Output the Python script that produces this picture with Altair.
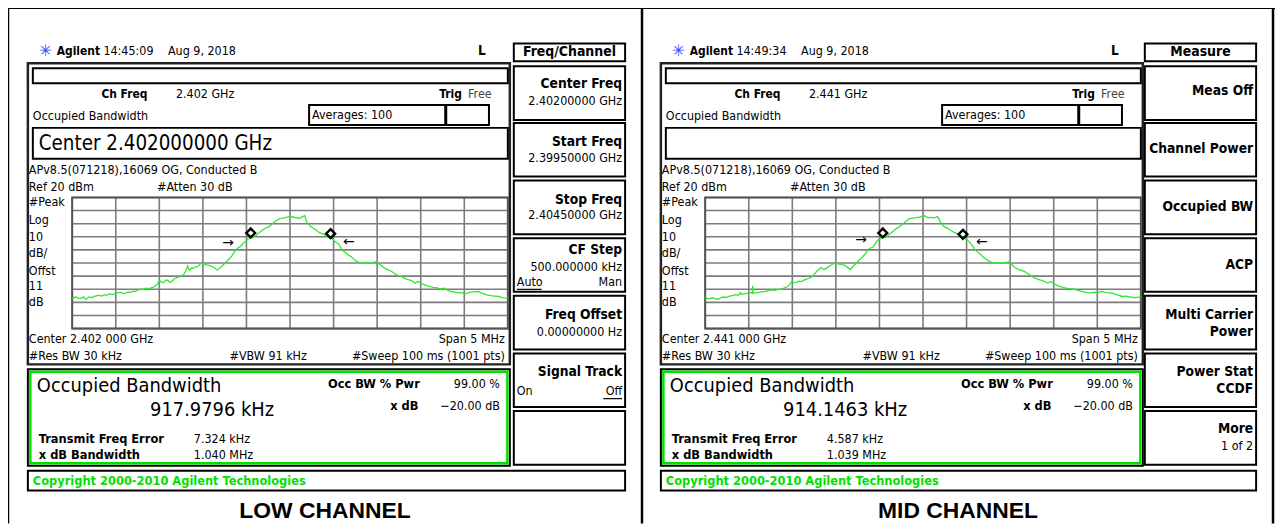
import altair as alt
import pandas as pd

# ---------------- values ----------------
LOW_FREQ_MHZ = [-2.500, -2.478, -2.455, -2.430, -2.398, -2.370, -2.341, -2.320, -2.303, -2.275,
                -2.246, -2.215, -2.189, -2.160, -2.133, -2.105, -2.076, -2.040, -2.008, -1.981,
                -1.943, -1.915, -1.886, -1.858, -1.830, -1.800, -1.773, -1.745, -1.716, -1.690,
                -1.659, -1.630, -1.602, -1.575, -1.545, -1.520, -1.500, -1.475, -1.451, -1.425,
                -1.402, -1.380, -1.356, -1.330, -1.311, -1.285, -1.261, -1.240, -1.223, -1.200,
                -1.174, -1.160, -1.148, -1.130, -1.110, -1.085, -1.061, -1.035, -1.015, -0.990,
                -0.958, -0.930, -0.902, -0.870, -0.837, -0.810, -0.788, -0.760, -0.731, -0.700,
                -0.674, -0.645, -0.617, -0.598, -0.576, -0.545, -0.519, -0.500, -0.481, -0.462,
                -0.440, -0.424, -0.405, -0.386, -0.360, -0.330, -0.300, -0.273, -0.254, -0.235,
                -0.215, -0.197, -0.178, -0.159, -0.140, -0.121, -0.090, -0.064, -0.035, -0.008,
                0.011, 0.030, 0.050, 0.068, 0.090, 0.106, 0.125, 0.144, 0.163, 0.170,
                0.180, 0.193, 0.215, 0.239, 0.265, 0.295, 0.320, 0.345, 0.370, 0.390,
                0.410, 0.428, 0.450, 0.466, 0.485, 0.504, 0.523, 0.542, 0.561, 0.580,
                0.598, 0.625, 0.655, 0.685, 0.712, 0.740, 0.769, 0.800, 0.826, 0.855,
                0.883, 0.910, 0.939, 0.968, 0.996, 1.025, 1.053, 1.080, 1.110, 1.135,
                1.167, 1.195, 1.223, 1.250, 1.280, 1.310, 1.337, 1.365, 1.394, 1.432,
                1.470, 1.502, 1.540, 1.570, 1.605, 1.640, 1.690, 1.730, 1.768, 1.800,
                1.837, 1.880, 1.930, 1.973, 2.020, 2.060, 2.110, 2.163, 2.200, 2.258,
                2.300, 2.350, 2.395, 2.440, 2.486, 2.500]
LOW_LEVEL_DBM = [-57.4, -56.2, -55.9, -57.0, -56.9, -55.8, -57.9, -56.5, -55.9, -56.3,
                 -55.4, -54.8, -54.6, -55.2, -54.1, -54.6, -53.6, -54.0, -53.4, -52.6,
                 -52.4, -53.2, -52.9, -52.0, -52.4, -51.4, -51.6, -50.6, -49.8, -50.4,
                 -49.1, -49.6, -49.1, -48.5, -47.3, -46.0, -43.3, -44.5, -44.8, -43.0,
                 -43.3, -44.6, -44.1, -42.2, -41.6, -40.8, -40.3, -39.5, -39.0, -36.5,
                 -32.3, -35.0, -35.3, -33.8, -34.0, -33.0, -32.8, -31.2, -29.7, -30.6,
                 -31.5, -31.8, -32.3, -33.6, -35.3, -34.0, -32.8, -31.0, -29.0, -27.0,
                 -25.2, -22.0, -19.7, -18.6, -17.7, -15.5, -13.9, -12.9, -11.6, -11.4,
                 -10.6, -10.2, -9.6, -8.9, -7.2, -5.6, -4.2, -3.1, -2.6, -2.1,
                 -0.8, 0.4, 1.2, 2.4, 3.0, 3.7, 4.2, 4.4, 5.0, 5.4,
                 5.1, 5.4, 4.8, 4.4, 4.6, 3.9, 4.6, 5.4, 6.0, 6.2,
                 3.5, 1.2, -0.5, -2.1, -3.5, -4.6, -6.0, -7.1, -7.6, -8.1,
                 -9.0, -10.2, -10.6, -11.0, -11.4, -12.8, -13.9, -14.8, -15.7, -18.0,
                 -20.2, -21.5, -23.2, -24.4, -25.7, -27.6, -29.0, -29.8, -30.3, -29.6,
                 -29.5, -30.0, -29.7, -29.4, -29.0, -31.0, -32.3, -33.6, -34.8, -35.3,
                 -36.5, -37.8, -39.0, -39.6, -40.3, -41.5, -42.3, -42.8, -43.3, -45.3,
                 -44.1, -45.4, -46.5, -47.2, -47.9, -48.6, -49.0, -49.8, -49.2, -50.5,
                 -51.7, -52.0, -52.8, -52.5, -53.3, -52.4, -52.0, -51.7, -53.0, -54.2,
                 -54.8, -55.2, -55.5, -56.6, -56.8, -56.2]

MID_FREQ_MHZ = [-2.500, -2.478, -2.455, -2.425, -2.398, -2.370, -2.341, -2.320, -2.284, -2.255,
                -2.227, -2.190, -2.152, -2.120, -2.095, -2.085, -2.038, -2.010, -1.981, -1.960,
                -1.955, -1.950, -1.943, -1.915, -1.886, -1.850, -1.811, -1.770, -1.735, -1.705,
                -1.678, -1.650, -1.621, -1.590, -1.564, -1.530, -1.508, -1.480, -1.451, -1.420,
                -1.394, -1.365, -1.337, -1.310, -1.280, -1.250, -1.223, -1.195, -1.167, -1.148,
                -1.129, -1.100, -1.072, -1.040, -1.015, -0.985, -0.958, -0.930, -0.902, -0.865,
                -0.833, -0.810, -0.788, -0.760, -0.731, -0.700, -0.674, -0.645, -0.617, -0.598,
                -0.576, -0.545, -0.519, -0.500, -0.481, -0.462, -0.440, -0.424, -0.400, -0.367,
                -0.340, -0.311, -0.280, -0.254, -0.230, -0.208, -0.185, -0.159, -0.130, -0.102,
                -0.075, -0.045, -0.020, 0.011, 0.040, 0.068, 0.095, 0.125, 0.150, 0.163,
                0.180, 0.193, 0.215, 0.239, 0.265, 0.295, 0.320, 0.352, 0.380, 0.409,
                0.440, 0.466, 0.485, 0.504, 0.523, 0.542, 0.570, 0.598, 0.625, 0.655,
                0.685, 0.712, 0.740, 0.769, 0.800, 0.826, 0.855, 0.883, 0.910, 0.939,
                0.968, 0.996, 1.025, 1.053, 1.080, 1.110, 1.140, 1.167, 1.195, 1.223,
                1.250, 1.280, 1.310, 1.337, 1.365, 1.394, 1.432, 1.470, 1.495, 1.540,
                1.580, 1.636, 1.680, 1.728, 1.770, 1.821, 1.870, 1.912, 1.960, 2.000,
                2.049, 2.100, 2.170, 2.230, 2.286, 2.330, 2.380, 2.430, 2.471, 2.500]
MID_LEVEL_DBM = [-55.9, -57.0, -57.4, -56.5, -56.7, -57.6, -57.4, -56.4, -55.9, -56.2,
                 -55.4, -54.9, -54.1, -54.6, -52.4, -53.9, -53.4, -53.0, -52.4, -53.0,
                 -47.3, -53.0, -52.9, -52.7, -52.4, -52.0, -51.6, -51.0, -50.4, -50.8,
                 -50.4, -50.0, -49.8, -49.0, -48.3, -46.5, -44.1, -45.0, -44.8, -43.8,
                 -44.1, -43.0, -42.3, -41.6, -40.8, -38.8, -36.5, -35.0, -33.3, -34.8,
                 -34.8, -33.5, -32.3, -31.0, -29.7, -30.4, -30.8, -31.2, -31.5, -33.5,
                 -34.8, -33.2, -31.5, -29.8, -27.7, -25.8, -23.9, -21.3, -18.9, -18.5,
                 -18.2, -14.8, -12.7, -11.8, -10.7, -10.5, -10.4, -10.2, -8.8, -7.1,
                 -5.6, -3.9, -2.8, -1.4, -0.2, 1.2, 2.2, 3.7, 4.1, 4.4,
                 4.6, 4.9, 5.4, 6.2, 5.2, 4.4, 4.8, 4.4, 5.0, 5.4,
                 4.0, 1.9, 0.0, -2.1, -3.0, -3.9, -5.2, -6.4, -7.2, -8.1,
                 -9.5, -10.7, -11.5, -12.2, -13.5, -14.7, -17.2, -19.7, -21.5, -23.2,
                 -25.0, -26.5, -27.8, -29.0, -29.6, -30.3, -29.9, -29.7, -30.2, -29.7,
                 -29.4, -29.0, -31.5, -33.3, -34.3, -35.3, -35.8, -36.5, -37.8, -39.0,
                 -40.3, -41.6, -42.0, -42.8, -43.3, -44.1, -45.3, -44.1, -45.4, -47.0,
                 -48.0, -49.2, -49.5, -50.0, -50.6, -51.7, -52.4, -53.0, -52.3, -52.6,
                 -51.7, -52.5, -53.0, -54.2, -55.5, -55.2, -55.9, -56.4, -56.0, -55.6]

LOW_MARKER_FREQ = [-0.451, 0.466]
LOW_MARKER_LEVEL = [-7.1, -7.6]
MID_MARKER_FREQ = [-0.462, 0.458]
MID_MARKER_LEVEL = [-7.1, -8.1]
LOW_ARROW_FREQ = [-0.712, 0.674]
LOW_ARROW_LEVEL = [-14.7, -14.2]
MID_ARROW_FREQ = [-0.712, 0.674]
MID_ARROW_LEVEL = [-12.7, -13.9]
ARROW_GLYPHS = ["→", "←"]

FREQ_GRID_MHZ = [-2.5, -2.0, -1.5, -1.0, -0.5, 0.0, 0.5, 1.0, 1.5, 2.0, 2.5]
LEVEL_GRID_DBM = [20, 10, 0, -10, -20, -30, -40, -50, -60, -70, -80]

PANEL_TITLES = ["LOW CHANNEL", "MID CHANNEL"]
TIMESTAMPS = ["14:45:09", "14:49:34"]
CH_FREQS = ["2.402 GHz", "2.441 GHz"]
CENTER_ENTRIES = ["Center 2.402000000 GHz", ""]
CENTER_LABELS = ["Center 2.402 000 GHz", "Center 2.441 000 GHz"]
OBW_VALUES = ["917.9796 kHz", "914.1463 kHz"]
FREQ_ERRORS = ["7.324 kHz", "4.587 kHz"]
XDB_BANDWIDTHS = ["1.040 MHz", "1.039 MHz"]
MENU_TITLES = ["Freq/Channel", "Measure"]
# softkeys: (bold lines, normal lines)
LOW_SOFTKEYS = [(["Center Freq"], ["2.40200000 GHz"]),
                (["Start Freq"], ["2.39950000 GHz"]),
                (["Stop Freq"], ["2.40450000 GHz"]),
                (["CF Step"], ["500.000000 kHz"]),
                (["Freq Offset"], ["0.00000000  Hz"]),
                (["Signal Track"], []),
                ([], [])]
MID_SOFTKEYS = [(["Meas Off"], []),
                (["Channel Power"], []),
                (["Occupied BW"], []),
                (["ACP"], []),
                (["Multi Carrier", "Power"], []),
                (["Power Stat", "CCDF"], []),
                (["More"], ["1 of 2"])]

# ---------------- layout / styling ----------------
OFF = 8
FONT = "DejaVu Sans Condensed, Liberation Sans Narrow, Liberation Sans, sans-serif"
TRACE_GREEN = "#2ee82e"
GREEN = "#00e000"
W, H = 1275, 517

KEY_TOPS = [65, 122, 180, 238, 296, 354, 412]
KEY_H = 54
# vertical offsets (from key top) of each text line inside a softkey
LOW_KEY_DY = [[18, 35], [19, 35], [20, 35], [12, 29], [19, 36], [19], []]
MID_KEY_DY = [[25], [26], [27], [27], [19, 36], [19, 36], [18, 35]]


def px(v):
    return v - OFF


def texts(items, size=12.5, weight="normal", align="left", color="black", font=FONT, baseline="middle"):
    df = pd.DataFrame(items, columns=["x", "y", "t"])
    df["x"] = df["x"] - OFF
    df["y"] = df["y"] - OFF
    return alt.Chart(df).mark_text(align=align, baseline=baseline, fontSize=size, fontWeight=weight,
                                   color=color, font=font).encode(
        x=alt.X("x:Q", scale=None, axis=None),
        y=alt.Y("y:Q", scale=None, axis=None),
        text="t:N")


def boxes(items, stroke="black", width=2.0):
    df = pd.DataFrame(items, columns=["x", "x2", "y", "y2"]) - OFF
    return alt.Chart(df).mark_rect(fill="transparent", stroke=stroke, strokeWidth=width).encode(
        x=alt.X("x:Q", scale=None, axis=None), x2="x2:Q",
        y=alt.Y("y:Q", scale=None, axis=None), y2="y2:Q")


def lines(items, color="black", width=2.0):
    df = pd.DataFrame(items, columns=["x", "x2", "y", "y2"]) - OFF
    return alt.Chart(df).mark_rule(color=color, strokeWidth=width).encode(
        x=alt.X("x:Q", scale=None, axis=None), x2="x2:Q",
        y=alt.Y("y:Q", scale=None, axis=None), y2="y2:Q")


def panel(i, ox, kx, freqs, levels, mfreq, mlevel, afreq, alevel, softkeys, key_dy):
    L = []
    # ---- header ----
    L.append(texts([(ox + 39, 50, "✳")], size=16, color="#3b4bff", font="DejaVu Sans"))
    L.append(texts([(ox + 57, 50, "Agilent")], size=12, weight="bold"))
    L.append(texts([(ox + 104, 50, TIMESTAMPS[i]), (ox + 169, 50, "Aug 9, 2018")]))
    L.append(texts([(ox + 481, 50, "L")], size=13.5, weight="bold"))
    # ---- menu column ----
    L.append(boxes([(kx + 517, kx + 629, 42, 60)] +
                   [(kx + 517, kx + 629, t, t + KEY_H) for t in KEY_TOPS] +
                   [(ox + 28, kx + 629, 472, 492)]))
    L.append(texts([(kx + 573, 51, MENU_TITLES[i])], size=14, weight="bold", align="center"))
    bold_items, norm_items = [], []
    for t, (bl, nl), dys in zip(KEY_TOPS, softkeys, key_dy):
        lines_all = [(s, True) for s in bl] + [(s, False) for s in nl]
        for (s, is_bold), dy in zip(lines_all, dys):
            (bold_items if is_bold else norm_items).append((kx + 626, t + dy, s))
    if bold_items:
        L.append(texts(bold_items, size=13.8, weight="bold", align="right"))
    if norm_items:
        L.append(texts(norm_items, size=12.5, align="right"))
    if i == 0:
        L.append(texts([(kx + 520, 282, "Auto"), (kx + 520, 392, "On")], size=12.5))
        L.append(texts([(kx + 626, 282, "Man"), (kx + 626, 392, "Off")], size=12.5, align="right"))
        L.append(lines([(kx + 520, kx + 545, 289.5, 289.5), (kx + 607, kx + 626, 399.5, 399.5)], width=1.2))
    # ---- screen ----
    L.append(boxes([(ox + 28, ox + 513, 62, 365)], stroke="#222", width=2.5))
    L.append(boxes([(ox + 33, ox + 511, 67, 82), (ox + 33, ox + 511, 127, 158),
                    (ox + 311, ox + 448, 104, 124), (ox + 449, ox + 492, 104, 124)], width=2))
    L.append(texts([(ox + 102, 93, "Ch Freq"), (ox + 442, 93, "Trig")], size=12, weight="bold"))
    L.append(texts([(ox + 471, 93, "Free")], color="#444"))
    L.append(texts([(ox + 177, 93, CH_FREQS[i]),
                    (ox + 33, 115, "Occupied Bandwidth"), (ox + 314, 114, "Averages: 100"),
                    (ox + 29, 169, "APv8.5(071218),16069 OG, Conducted B"),
                    (ox + 29, 187, "Ref 20 dBm"), (ox + 158, 187, "#Atten 30 dB"),
                    (ox + 29, 202, "#Peak"), (ox + 29, 220, "Log"), (ox + 29, 237, "10"),
                    (ox + 29, 253, "dB/"), (ox + 29, 271, "Offst"), (ox + 29, 286, "11"),
                    (ox + 29, 302, "dB"),
                    (ox + 29, 339, CENTER_LABELS[i]), (ox + 29, 357, "#Res BW 30 kHz"),
                    (ox + 231, 357, "#VBW 91 kHz")]))
    L.append(texts([(ox + 508, 339, "Span 5 MHz"), (ox + 508, 357, "#Sweep 100 ms (1001 pts)")],
                   align="right"))
    if CENTER_ENTRIES[i]:
        L.append(texts([(ox + 39, 143, CENTER_ENTRIES[i])], size=20.5))
    # ---- graticule + trace through data scales ----
    gx0, gx1, gy0, gy1 = ox + 72.6, ox + 511, 197, 329
    xs = alt.Scale(domain=[-2.5, 2.5], range=[px(gx0), px(gx1)], nice=False, zero=False)
    ys = alt.Scale(domain=[-80, 20], range=[px(gy1), px(gy0)], nice=False, zero=False)
    gf = pd.DataFrame({"f": FREQ_GRID_MHZ})
    gl = pd.DataFrame({"db": LEVEL_GRID_DBM})
    L.append(alt.Chart(gf).mark_rule(color="#7c7c7c", strokeWidth=1.6).encode(
        x=alt.X("f:Q", scale=xs, axis=None), y=alt.value(px(gy0)), y2=alt.value(px(gy1))))
    L.append(alt.Chart(gl).mark_rule(color="#7c7c7c", strokeWidth=1.6).encode(
        y=alt.Y("db:Q", scale=ys, axis=None), x=alt.value(px(gx0)), x2=alt.value(px(gx1))))
    L.append(boxes([(gx0, gx1, gy0, gy1)], stroke="#555", width=2))
    tr = pd.DataFrame({"f": freqs, "db": levels})
    L.append(alt.Chart(tr).mark_line(color=TRACE_GREEN, strokeWidth=1.3).encode(
        x=alt.X("f:Q", scale=xs, axis=None), y=alt.Y("db:Q", scale=ys, axis=None), order="f:Q"))
    mk = pd.DataFrame({"f": mfreq, "db": mlevel})
    L.append(alt.Chart(mk).mark_point(shape="diamond", filled=False, color="black",
                                      strokeWidth=2.4, size=80, opacity=1).encode(
        x=alt.X("f:Q", scale=xs, axis=None), y=alt.Y("db:Q", scale=ys, axis=None)))
    ar = pd.DataFrame({"f": afreq, "db": alevel, "g": ARROW_GLYPHS})
    L.append(alt.Chart(ar).mark_text(fontSize=14, font="DejaVu Sans", color="black").encode(
        x=alt.X("f:Q", scale=xs, axis=None), y=alt.Y("db:Q", scale=ys, axis=None), text="g:N"))
    # ---- measurement box ----
    L.append(boxes([(ox + 28, ox + 513, 370, 467)], width=2))
    L.append(boxes([(ox + 30.5, ox + 510.5, 372.5, 464.5)], stroke=GREEN, width=2.5))
    L.append(texts([(ox + 37, 387, "Occupied Bandwidth"), (ox + 151, 411, OBW_VALUES[i])], size=20))
    L.append(texts([(ox + 330, 385, "Occ BW % Pwr"), (ox + 39, 440, "Transmit Freq Error"),
                    (ox + 39, 456, "x dB Bandwidth")], size=12.8, weight="bold"))
    L.append(texts([(ox + 421, 407, "x dB")], size=12.8, weight="bold", align="right"))
    L.append(texts([(ox + 503, 385, "99.00 %"), (ox + 503, 407, "−20.00 dB")], align="right"))
    L.append(texts([(ox + 195, 440, FREQ_ERRORS[i]), (ox + 195, 456, XDB_BANDWIDTHS[i])]))
    L.append(texts([(ox + 33, 482, "Copyright 2000-2010 Agilent Technologies")], size=12.8,
                   weight="bold", color=GREEN))
    L.append(texts([(ox + 327, 520, PANEL_TITLES[i])], size=23, weight="bold",
                   font="Liberation Sans, Arial, sans-serif", align="center", baseline="alphabetic"))
    return L


layers = []
# outer frame
layers.append(lines([(7, 1283, 6, 6), (8, 8, 5, 525), (646, 646, 5, 525), (1281, 1281, 5, 525)],
                    width=2.5))
layers += panel(0, 0, 0, LOW_FREQ_MHZ, LOW_LEVEL_DBM, LOW_MARKER_FREQ, LOW_MARKER_LEVEL,
                LOW_ARROW_FREQ, LOW_ARROW_LEVEL, LOW_SOFTKEYS, LOW_KEY_DY)
layers += panel(1, 637, 635, MID_FREQ_MHZ, MID_LEVEL_DBM, MID_MARKER_FREQ, MID_MARKER_LEVEL,
                MID_ARROW_FREQ, MID_ARROW_LEVEL, MID_SOFTKEYS, MID_KEY_DY)

chart = alt.layer(*layers).resolve_scale(x="independent", y="independent").properties(
    width=W, height=H, padding=0, autosize=alt.AutoSizeParams(type="none"),
    background="white").configure_view(stroke="transparent")

chart.save("out.html", embed_options={"renderer": "svg", "actions": False})
